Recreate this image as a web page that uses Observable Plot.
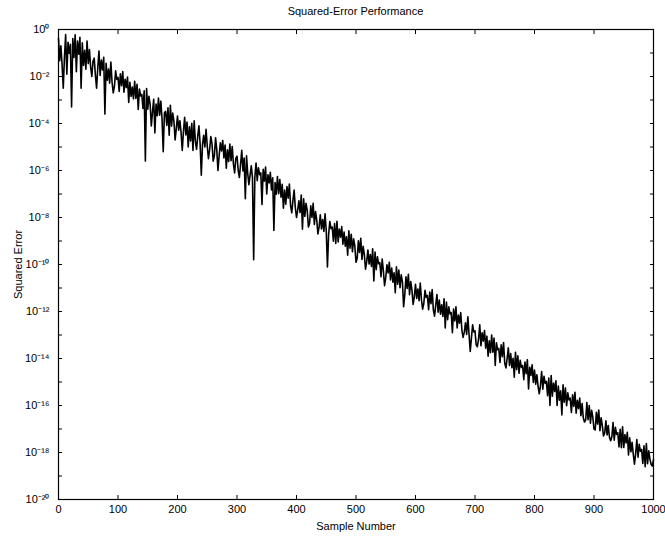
<!DOCTYPE html>
<html>
<head>
<meta charset="utf-8">
<script src="https://cdn.jsdelivr.net/npm/d3@7"></script>
<script src="https://cdn.jsdelivr.net/npm/@observablehq/plot@0.6"></script>
<style>
  body { margin: 0; background: #fff; font-family: "Liberation Sans", Arial, sans-serif; }
  #title { height: 20px; width: 665px; position: relative; }
  #title span { position: absolute; left: 0; width: 711px; text-align: center; top: 5px; font-size: 11px; color: #000; }
</style>
</head>
<body>
<div id="title"><span>Squared-Error Performance</span></div>
<div id="chart"></div>
<script>
// Sample numbers (every 2nd sample) and squared error as log10 exponent
const samples = d3.range(0, 1001, 2);
const log10Err = [
  -0.37, -1.33, -0.69, -1.49, -2.5, -1.18, -0.22, -1.9, -0.54, -1.02,
  -0.63, -3.3, -0.39, -1.19, -0.23, -1.8, -0.49, -1.05, -0.33, -2.5,
  -0.57, -1.53, -0.89, -1.69, -0.49, -1.45, -0.85, -1.6, -2.0, -1.35,
  -1.22, -1.94, -2.5, -1.64, -0.92, -1.96, -1.3, -1.72, -1.18, -3.6,
  -1.44, -2.16, -1.68, -2.28, -1.38, -2.24, -2.7, -2.42, -1.76, -2.12,
  -2.04, -2.64, -1.89, -2.39, -1.79, -2.67, -2.12, -2.47, -2.02, -3.1,
  -2.25, -2.85, -2.45, -2.95, -2.2, -2.93, -2.33, -3.4, -2.53, -2.83,
  -2.76, -3.36, -2.61, -5.6, -2.51, -3.39, -2.84, -3.19, -4.1, -3.49,
  -2.97, -4.4, -3.17, -3.67, -2.92, -3.65, -3.05, -3.8, -5.2, -3.55,
  -3.48, -4.08, -3.33, -4.5, -3.23, -4.11, -3.56, -3.91, -4.7, -4.21,
  -3.68, -4.28, -3.88, -4.38, -5.15, -4.34, -3.74, -4.49, -3.94, -5.0,
  -4.14, -4.74, -3.99, -5.15, -3.89, -4.75, -5.1, -4.55, -4.1, -4.85,
  -6.2, -4.9, -4.5, -5.0, -4.25, -4.96, -5.5, -5.11, -4.56, -4.86,
  -5.6, -5.36, -4.61, -5.11, -6.0, -5.37, -4.82, -5.17, -4.72, -5.47,
  -4.92, -5.9, -5.12, -5.62, -4.87, -5.58, -4.98, -5.73, -6.1, -5.48,
  -5.39, -5.99, -6.3, -5.74, -5.14, -6.02, -5.47, -7.2, -5.37, -6.12,
  -6.6, -6.2, -5.8, -6.3, -9.8, -6.28, -5.68, -6.43, -5.88, -6.18,
  -6.1, -7.45, -5.95, -6.45, -5.85, -7.0, -6.18, -6.53, -6.08, -6.83,
  -6.31, -8.55, -6.51, -7.01, -6.26, -6.99, -6.39, -7.14, -6.59, -7.6,
  -6.83, -7.43, -6.68, -7.18, -6.58, -7.48, -7.8, -7.28, -6.83, -7.58,
  -8.0, -7.69, -7.29, -7.79, -7.04, -8.5, -7.2, -7.95, -7.4, -7.7,
  -8.4, -8.25, -7.5, -8.0, -7.4, -8.3, -7.75, -8.1, -8.7, -8.4,
  -7.89, -8.49, -8.09, -8.59, -7.84, -8.57, -10.1, -8.72, -8.17, -8.47,
  -8.41, -9.01, -8.26, -9.1, -8.16, -9.04, -8.49, -8.84, -8.39, -9.14,
  -8.62, -9.22, -8.82, -9.6, -8.57, -9.31, -8.71, -9.46, -8.91, -9.21,
  -9.9, -9.74, -8.99, -9.49, -8.89, -9.78, -9.23, -9.58, -10.2, -9.88,
  -9.38, -9.98, -9.58, -10.08, -9.33, -10.7, -9.47, -10.22, -9.67, -9.97,
  -9.92, -10.52, -9.77, -10.27, -10.9, -10.56, -10.01, -10.36, -9.91, -10.66,
  -10.15, -10.75, -10.35, -11.2, -10.1, -10.84, -10.24, -10.99, -10.44, -10.74,
  -11.8, -11.27, -10.52, -11.02, -10.42, -11.28, -10.73, -11.08, -11.7, -11.38,
  -10.84, -11.44, -11.04, -11.54, -10.79, -11.5, -11.9, -11.65, -11.1, -11.4,
  -11.32, -11.92, -11.17, -11.67, -11.07, -11.93, -12.2, -11.73, -11.28, -12.03,
  -11.51, -12.11, -11.71, -12.21, -11.46, -12.7, -11.6, -12.35, -11.8, -12.1,
  -12.05, -12.9, -11.9, -12.4, -11.8, -12.7, -12.15, -12.5, -12.05, -12.8,
  -13.1, -12.88, -12.48, -12.98, -12.23, -12.97, -13.7, -13.12, -12.57, -12.87,
  -12.82, -13.42, -13.5, -13.17, -12.57, -13.46, -12.91, -13.26, -12.81, -13.56,
  -13.05, -13.9, -13.25, -13.75, -13.0, -13.73, -13.13, -14.3, -13.33, -13.63,
  -13.57, -14.17, -13.42, -13.92, -13.32, -14.2, -14.4, -14.0, -13.55, -14.3,
  -13.79, -14.39, -13.99, -14.8, -13.74, -14.48, -13.88, -14.63, -14.08, -14.38,
  -14.3, -14.9, -14.15, -14.65, -14.05, -15.3, -14.37, -14.72, -14.27, -15.02,
  -14.49, -15.09, -14.69, -15.19, -15.5, -15.16, -14.56, -15.31, -14.76, -15.06,
  -14.98, -15.58, -14.83, -16.0, -14.73, -15.6, -15.05, -15.4, -14.95, -16.0,
  -15.17, -15.77, -15.37, -16.4, -15.12, -15.86, -15.26, -16.01, -15.46, -15.76,
  -15.69, -16.3, -15.54, -16.04, -15.44, -16.33, -15.78, -16.13, -15.68, -16.43,
  -15.92, -16.52, -16.7, -16.62, -15.87, -16.6, -16.0, -16.75, -16.2, -16.5,
  -17.0, -17.04, -16.29, -16.79, -16.19, -17.07, -16.52, -16.87, -17.3, -17.17,
  -16.65, -17.25, -16.85, -17.35, -17.5, -17.33, -16.73, -17.48, -16.93, -17.23,
  -17.16, -17.76, -17.01, -17.8, -16.91, -17.79, -17.24, -17.59, -17.14, -18.1,
  -17.37, -17.97, -17.57, -18.07, -18.5, -18.05, -17.45, -18.2, -17.65, -17.95,
  -17.87, -18.47, -17.72, -18.6, -17.62, -18.48, -17.93, -18.28, -18.5, -18.58,
  -18.3
];
const xTicks = [0, 100, 200, 300, 400, 500, 600, 700, 800, 900, 1000];
const yLabelExps = [0, -2, -4, -6, -8, -10, -12, -14, -16, -18, -20];
const yTickExps = d3.range(0, -21, -1);

const data = samples.map((s, i) => ({s, e: 10 ** log10Err[i]}));
const sup = {"0":"⁰","1":"¹","2":"²","3":"³","4":"⁴","5":"⁵","6":"⁶","7":"⁷","8":"⁸","9":"⁹","-":"⁻"};
const fmtPow = v => "10" + String(Math.round(Math.log10(v))).split("").map(c => sup[c]).join("");
const yLabelVals = yLabelExps.map(e => 10 ** e);
const yTickVals = yTickExps.map(e => 10 ** e);

const chart = Plot.plot({
  width: 665,
  height: 518,
  marginLeft: 58,
  marginRight: 12,
  marginTop: 9,
  marginBottom: 39,
  style: {fontFamily: "'Liberation Sans', Arial, sans-serif", fontSize: "10px", color: "#000", background: "#fff"},
  x: {domain: [0, 1000]},
  y: {type: "log", domain: [1e-20, 1]},
  marks: [
    Plot.frame({stroke: "#000", strokeWidth: 1.2}),
    Plot.axisX({anchor: "bottom", ticks: xTicks, tickSize: 0, tickPadding: 6, tickFormat: d => String(d), label: "Sample Number", labelAnchor: "center", labelOffset: 30, labelArrow: "none", fontSize: 11}),
    Plot.axisX({anchor: "bottom", ticks: xTicks.slice(1, -1), tickSize: 4, dy: -4, text: null, label: null}),
    Plot.axisX({anchor: "top", ticks: xTicks.slice(1, -1), tickSize: 4, dy: 4, text: null, label: null}),
    Plot.axisY({anchor: "left", ticks: yLabelVals, tickSize: 0, tickPadding: 9, tickFormat: fmtPow, label: "Squared Error", labelAnchor: "center", labelOffset: 44, labelArrow: "none", fontSize: 11}),
    Plot.axisY({anchor: "left", ticks: yTickVals.slice(1, -1), tickSize: 4, dx: 4, text: null, label: null}),
    Plot.axisY({anchor: "right", ticks: yTickVals.slice(1, -1), tickSize: 4, dx: -4, text: null, label: null}),
    Plot.line(data, {x: "s", y: "e", stroke: "#000", strokeWidth: 1.6})
  ]
});
document.getElementById("chart").appendChild(chart);
</script>
</body>
</html>
